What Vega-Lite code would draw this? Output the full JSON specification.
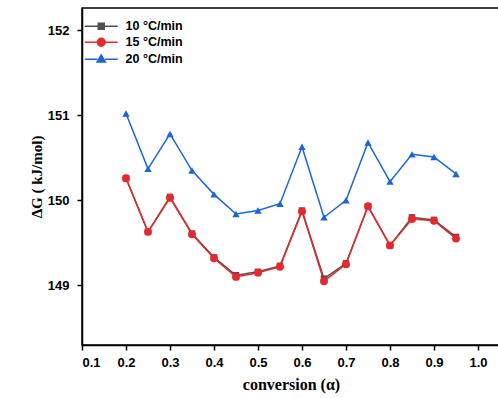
{
  "$schema": "https://vega.github.io/schema/vega-lite/v6.json",
  "width": 418,
  "height": 337,
  "autosize": {"type": "none"},
  "padding": {"left": 82, "top": 8, "right": 0, "bottom": 53},
  "background": "white",
  "config": {
    "view": {"stroke": "black", "strokeWidth": 1.5},
    "axis": {
      "grid": false,
      "domainColor": "black",
      "domainWidth": 1.5,
      "tickColor": "black",
      "tickWidth": 1.5,
      "tickSize": 5,
      "labelFont": "Liberation Sans",
      "labelFontWeight": "bold",
      "labelFontSize": 13,
      "labelColor": "black",
      "titleFont": "Liberation Serif",
      "titleFontWeight": "bold",
      "titleColor": "black"
    }
  },
  "data": {
    "values": [
      {"a": 0.2, "rate": "10 °C/min", "g": 150.26},
      {"a": 0.25, "rate": "10 °C/min", "g": 149.63},
      {"a": 0.3, "rate": "10 °C/min", "g": 150.04},
      {"a": 0.35, "rate": "10 °C/min", "g": 149.61},
      {"a": 0.4, "rate": "10 °C/min", "g": 149.33},
      {"a": 0.45, "rate": "10 °C/min", "g": 149.12},
      {"a": 0.5, "rate": "10 °C/min", "g": 149.16},
      {"a": 0.55, "rate": "10 °C/min", "g": 149.23},
      {"a": 0.6, "rate": "10 °C/min", "g": 149.88},
      {"a": 0.65, "rate": "10 °C/min", "g": 149.08},
      {"a": 0.7, "rate": "10 °C/min", "g": 149.26},
      {"a": 0.75, "rate": "10 °C/min", "g": 149.93},
      {"a": 0.8, "rate": "10 °C/min", "g": 149.47},
      {"a": 0.85, "rate": "10 °C/min", "g": 149.80},
      {"a": 0.9, "rate": "10 °C/min", "g": 149.77},
      {"a": 0.95, "rate": "10 °C/min", "g": 149.57},
      {"a": 0.2, "rate": "15 °C/min", "g": 150.26},
      {"a": 0.25, "rate": "15 °C/min", "g": 149.63},
      {"a": 0.3, "rate": "15 °C/min", "g": 150.03},
      {"a": 0.35, "rate": "15 °C/min", "g": 149.60},
      {"a": 0.4, "rate": "15 °C/min", "g": 149.32},
      {"a": 0.45, "rate": "15 °C/min", "g": 149.10},
      {"a": 0.5, "rate": "15 °C/min", "g": 149.15},
      {"a": 0.55, "rate": "15 °C/min", "g": 149.22},
      {"a": 0.6, "rate": "15 °C/min", "g": 149.87},
      {"a": 0.65, "rate": "15 °C/min", "g": 149.05},
      {"a": 0.7, "rate": "15 °C/min", "g": 149.25},
      {"a": 0.75, "rate": "15 °C/min", "g": 149.93},
      {"a": 0.8, "rate": "15 °C/min", "g": 149.47},
      {"a": 0.85, "rate": "15 °C/min", "g": 149.78},
      {"a": 0.9, "rate": "15 °C/min", "g": 149.76},
      {"a": 0.95, "rate": "15 °C/min", "g": 149.55},
      {"a": 0.2, "rate": "20 °C/min", "g": 151.02},
      {"a": 0.25, "rate": "20 °C/min", "g": 150.37},
      {"a": 0.3, "rate": "20 °C/min", "g": 150.78},
      {"a": 0.35, "rate": "20 °C/min", "g": 150.35},
      {"a": 0.4, "rate": "20 °C/min", "g": 150.07},
      {"a": 0.45, "rate": "20 °C/min", "g": 149.84},
      {"a": 0.5, "rate": "20 °C/min", "g": 149.88},
      {"a": 0.55, "rate": "20 °C/min", "g": 149.96},
      {"a": 0.6, "rate": "20 °C/min", "g": 150.63},
      {"a": 0.65, "rate": "20 °C/min", "g": 149.80},
      {"a": 0.7, "rate": "20 °C/min", "g": 150.00},
      {"a": 0.75, "rate": "20 °C/min", "g": 150.68},
      {"a": 0.8, "rate": "20 °C/min", "g": 150.22},
      {"a": 0.85, "rate": "20 °C/min", "g": 150.54},
      {"a": 0.9, "rate": "20 °C/min", "g": 150.51},
      {"a": 0.95, "rate": "20 °C/min", "g": 150.31}
    ]
  },
  "encoding": {
    "x": {
      "field": "a", "type": "quantitative",
      "scale": {"domain": [0.1, 1.05], "nice": false, "zero": false},
      "axis": {"values": [0.1,0.2,0.3,0.4,0.5,0.6,0.7,0.8,0.9,1.0], "format": ".1f", "title": "conversion (α)", "titleFontSize": 16, "labelPadding": 6, "titlePadding": 7}
    },
    "y": {
      "field": "g", "type": "quantitative",
      "scale": {"domain": [148.3, 152.26], "nice": false, "zero": false},
      "axis": {"values": [149, 150, 151, 152], "format": "d", "title": "ΔG ( kJ/mol)", "titleFontSize": 15, "labelPadding": 8, "titlePadding": 3}
    },
    "color": {
      "field": "rate", "type": "nominal",
      "scale": {"domain": ["10 °C/min", "15 °C/min", "20 °C/min"], "range": ["#505050", "#e8282c", "#1a66d8"]},
      "legend": {
        "title": null,
        "orient": "none",
        "legendX": 13,
        "legendY": 12,
        "labelFont": "Liberation Sans",
        "labelFontWeight": "bold",
        "labelFontSize": 12.5,
        "labelColor": "black",
        "symbolSize": 36,
        "symbolType": "stroke",
        "symbolStrokeWidth": 1.5,
        "labelOffset": 18,
        "rowPadding": 2,
        "encode": {
          "symbols": {
            "update": {
              "shape": {"signal": "indexof(datum.value, '10') === 0 ? 'M-5.5,0H-1M1,0H5.5M-1,-1H1V1H-1Z' : indexof(datum.value, '15') === 0 ? 'M-5.5,0H-1.3M1.3,0H5.5M-1.3,0A1.3,1.3 0 1,0 1.3,0A1.3,1.3 0 1,0 -1.3,0Z' : 'M-5.5,0H-1.3M1.3,0H5.5M0,-1.4L1.4,0.9L-1.4,0.9Z'"},
              "fill": {"scale": "color", "field": "value"},
              "stroke": {"scale": "color", "field": "value"},
              "strokeWidth": {"value": 1.5},
              "opacity": {"value": 1}
            }
          }
        }
      }
    }
  },
  "layer": [
    {"mark": {"type": "line", "strokeWidth": 1.5}},
    {
      "transform": [{"filter": "datum.rate === '10 °C/min'"}],
      "mark": {"type": "point", "filled": true, "opacity": 1, "size": 42, "shape": "square"}
    },
    {
      "transform": [{"filter": "datum.rate === '15 °C/min'"}],
      "mark": {"type": "point", "filled": true, "opacity": 1, "size": 62, "shape": "circle"}
    },
    {
      "transform": [{"filter": "datum.rate === '20 °C/min'"}],
      "mark": {"type": "point", "filled": true, "opacity": 1, "size": 55, "shape": "triangle-up"}
    }
  ]
}
